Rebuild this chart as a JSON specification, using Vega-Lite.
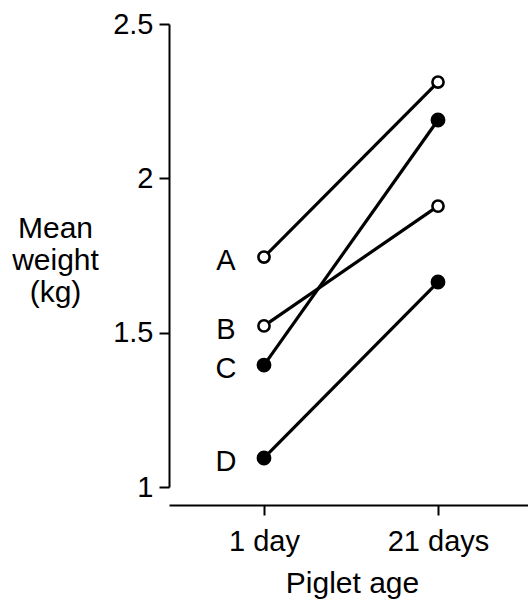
{
  "$schema": "https://vega.github.io/schema/vega-lite/v6.json",
  "width": 359,
  "height": 463,
  "autosize": {"type": "none"},
  "padding": {"left": 169, "top": 24, "right": 0, "bottom": 122},
  "background": "white",
  "config": {
    "view": {"stroke": null},
    "font": "Liberation Sans",
    "axis": {
      "domainColor": "black",
      "tickColor": "black",
      "labelColor": "black",
      "titleColor": "black",
      "labelFont": "Liberation Sans",
      "titleFont": "Liberation Sans",
      "labelFontSize": 29,
      "titleFontSize": 30,
      "titleFontWeight": "normal",
      "grid": false,
      "domainWidth": 2,
      "tickWidth": 2
    }
  },
  "data": {
    "values": [
      {"group": "A", "age": "1 day", "weight": 1.745, "type": "open"},
      {"group": "A", "age": "21 days", "weight": 2.312, "type": "open"},
      {"group": "B", "age": "1 day", "weight": 1.522, "type": "open"},
      {"group": "B", "age": "21 days", "weight": 1.910, "type": "open"},
      {"group": "C", "age": "1 day", "weight": 1.395, "type": "filled"},
      {"group": "C", "age": "21 days", "weight": 2.189, "type": "filled"},
      {"group": "D", "age": "1 day", "weight": 1.094, "type": "filled"},
      {"group": "D", "age": "21 days", "weight": 1.664, "type": "filled"}
    ]
  },
  "encoding": {
    "x": {
      "field": "age",
      "type": "ordinal",
      "scale": {"type": "point", "domain": ["1 day", "21 days"], "padding": 0.5316, "align": 0.5135},
      "axis": {
        "orient": "bottom",
        "offset": 18,
        "tickSize": 10,
        "labelPadding": 35,
        "labelBaseline": "alphabetic",
        "labelAngle": 0,
        "title": "Piglet age",
        "titleY": 87,
        "titleX": 183,
        "titleBaseline": "alphabetic",
        "titleAlign": "center"
      }
    },
    "y": {
      "field": "weight",
      "type": "quantitative",
      "scale": {"domain": [1, 2.5], "nice": false, "zero": false},
      "axis": {
        "values": [1, 1.5, 2, 2.5],
        "labelExpr": "datum.value + ''",
        "tickSize": 10,
        "labelPadding": 6,
        "title": ["Mean", "weight", "(kg)"],
        "titleAngle": 0,
        "titleAlign": "center",
        "titleBaseline": "alphabetic",
        "titleX": -114,
        "titleY": 213,
        "titleLineHeight": 32
      }
    }
  },
  "layer": [
    {
      "mark": {"type": "line", "color": "black", "strokeWidth": 3.2},
      "encoding": {"detail": {"field": "group"}}
    },
    {
      "mark": {"type": "point", "shape": "circle", "filled": true, "stroke": "black", "strokeWidth": 2.6, "opacity": 1},
      "encoding": {
        "fill": {"field": "type", "type": "nominal", "scale": {"domain": ["open", "filled"], "range": ["white", "black"]}, "legend": null},
        "size": {"field": "type", "type": "nominal", "scale": {"domain": ["open", "filled"], "range": [125, 150]}, "legend": null}
      }
    },
    {
      "transform": [{"filter": "datum.age == '1 day'"}],
      "mark": {"type": "text", "dx": -38, "dy": 4, "fontSize": 29, "font": "Liberation Sans", "align": "center", "baseline": "middle", "color": "black"},
      "encoding": {"text": {"field": "group"}}
    }
  ]
}
